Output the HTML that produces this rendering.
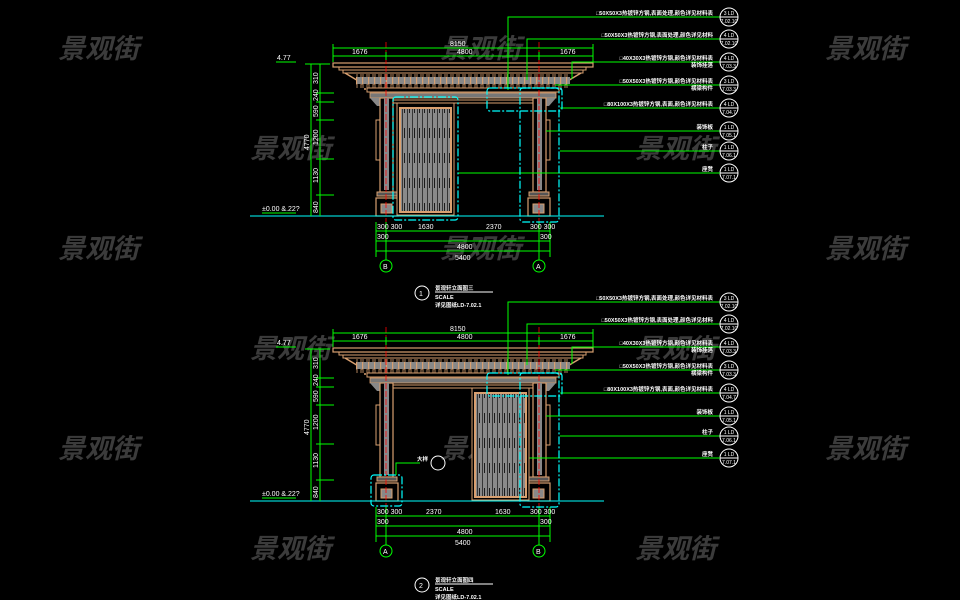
<!DOCTYPE html>
<html><head><meta charset="utf-8"><style>
html,body{margin:0;padding:0;background:#000;width:960px;height:600px;overflow:hidden}
svg{display:block}
.wm{font-family:"Liberation Sans","Noto Sans CJK SC",sans-serif;font-size:27px;font-style:italic;font-weight:bold;fill:#4a4a4a;opacity:.8}
.lb{font-family:"Liberation Sans","Noto Sans CJK SC",sans-serif;font-size:5.5px;fill:#fff;font-weight:bold}
.ce{font-family:"Liberation Sans",sans-serif;font-size:5px;fill:#fff;text-anchor:middle}
.dm{font-family:"Liberation Sans",sans-serif;font-size:7px;fill:#fff}
</style></head><body>
<svg width="960" height="600" viewBox="0 0 960 600" xmlns="http://www.w3.org/2000/svg">
<defs>
<pattern id="fr" x="0" y="0" width="6" height="14" patternUnits="userSpaceOnUse">
<rect x="0" y="0" width="6" height="14" fill="#000"/>
<rect x="1" y="0" width="2" height="8" fill="none" stroke="#d9a070" stroke-width=".8"/>
<rect x="0" y="7" width="6" height="7" fill="#888"/>
<rect x="2" y="7" width="1.2" height="7" fill="#d9a070"/>
</pattern>
<pattern id="dr" x="0" y="0" width="5" height="25" patternUnits="userSpaceOnUse">
<rect width="5" height="25" fill="#8a8a8a"/>
<rect x="2" y="0" width=".8" height="25" fill="#222"/>
<rect x="4" y="3" width=".8" height="10" fill="#000"/>
</pattern>
<g id="frame">
<rect x="333" y="63" width="260" height="4" fill="none" stroke="#d9a070" stroke-width="1.2"/>
<rect x="339" y="67" width="247" height="3" fill="none" stroke="#d9a070"/>
<rect x="343" y="70" width="240" height="3" fill="none" stroke="#d9a070"/>
<polyline points="345,73 350,76 355,79 360,82 365,86 365,90" fill="none" stroke="#d9a070" stroke-width="1.5"/>
<polyline points="581,73 576,76 571,79 566,82 561,86 561,90" fill="none" stroke="#d9a070" stroke-width="1.5"/>
<rect x="356" y="74" width="214" height="14" fill="url(#fr)"/>
<rect x="367" y="88" width="192" height="4" fill="none" stroke="#d9a070"/>
<rect x="370" y="93" width="186" height="5" fill="#777" stroke="#d9a070" stroke-width=".8"/>
<path d="M370 98 L385 98 L385 106 L377 106 Z" fill="#888"/>
<path d="M556 98 L541 98 L541 106 L549 106 Z" fill="#888"/>
<rect x="386" y="100" width="153" height="3" fill="none" stroke="#d9a070"/>
<rect x="380" y="98" width="13" height="94" fill="#000" stroke="#d9a070" stroke-width="1.2"/>
<rect x="384" y="98" width="5" height="92" fill="#888"/>
<rect x="533" y="98" width="13" height="94" fill="#000" stroke="#d9a070" stroke-width="1.2"/>
<rect x="537" y="98" width="5" height="92" fill="#888"/>
<rect x="376" y="120" width="4" height="40" fill="none" stroke="#d9a070"/>
<rect x="546" y="120" width="4" height="40" fill="none" stroke="#d9a070"/>
<rect x="377" y="192" width="20" height="4" fill="#555" stroke="#d9a070"/>
<rect x="376" y="198" width="22" height="18" fill="none" stroke="#d9a070" stroke-width="1.2"/>
<rect x="381" y="204" width="11" height="9" fill="#888" stroke="#d9a070"/>
<rect x="529" y="192" width="20" height="4" fill="#555" stroke="#d9a070"/>
<rect x="528" y="198" width="22" height="18" fill="none" stroke="#d9a070" stroke-width="1.2"/>
<rect x="533" y="204" width="11" height="9" fill="#888" stroke="#d9a070"/>
<line x1="386" y1="42" x2="386" y2="226" stroke="#f00" stroke-dasharray="6,2" stroke-width=".8"/>
<line x1="539" y1="42" x2="539" y2="226" stroke="#f00" stroke-dasharray="6,2" stroke-width=".8"/>
<line x1="250" y1="216" x2="604" y2="216" stroke="#0ff" stroke-width="1"/>
<g stroke="#0f0" stroke-width="1" fill="none">
<line x1="333" y1="48" x2="593" y2="48"/><line x1="333" y1="56" x2="593" y2="56"/>
<line x1="333" y1="44" x2="333" y2="62"/><line x1="593" y1="44" x2="593" y2="62"/>
<line x1="386" y1="52" x2="386" y2="60"/><line x1="539" y1="52" x2="539" y2="60"/>
<line x1="311" y1="64" x2="311" y2="216"/><line x1="320" y1="64" x2="320" y2="216"/>
<line x1="305" y1="64" x2="330" y2="64"/>
<line x1="316" y1="93" x2="334" y2="93"/><line x1="316" y1="102" x2="334" y2="102"/>
<line x1="316" y1="120" x2="334" y2="120"/><line x1="316" y1="159" x2="334" y2="159"/>
<line x1="316" y1="195" x2="334" y2="195"/>
<line x1="276" y1="62" x2="296" y2="62"/><line x1="262" y1="213" x2="296" y2="213"/>
<line x1="376" y1="222" x2="376" y2="257"/><line x1="550" y1="222" x2="550" y2="257"/>
<line x1="386" y1="222" x2="386" y2="260"/><line x1="539" y1="222" x2="539" y2="260"/>
<line x1="376" y1="231" x2="550" y2="231"/><line x1="376" y1="241" x2="550" y2="241"/><line x1="376" y1="251" x2="550" y2="251"/>
<circle cx="386" cy="266" r="6"/><circle cx="539" cy="266" r="6"/>
</g>
<text class="dm" x="450" y="46">8150</text><text class="dm" x="352" y="54">1676</text><text class="dm" x="457" y="54">4800</text><text class="dm" x="560" y="54">1676</text>
<text class="dm" x="277" y="60">4.77</text><text class="dm" x="262" y="211">±0.00 &amp;.22?</text>
<text class="dm" x="455" y="260">5400</text><text class="dm" x="377" y="239">300</text><text class="dm" x="540" y="239">300</text><text class="dm" x="457" y="249">4800</text>
<text class="dm" transform="translate(309,150) rotate(-90)">4770</text>
<text class="dm" transform="translate(318,84) rotate(-90)">310</text>
<text class="dm" transform="translate(318,101) rotate(-90)">240</text>
<text class="dm" transform="translate(318,117) rotate(-90)">590</text>
<text class="dm" transform="translate(318,145) rotate(-90)">1200</text>
<text class="dm" transform="translate(318,183) rotate(-90)">1130</text>
<text class="dm" transform="translate(318,213) rotate(-90)">840</text>
<g stroke="#0f0" stroke-width="1" fill="none">
<polyline points="508,90 508,17 720,17"/><polyline points="527,80 527,39 720,39"/>
<polyline points="572,79 572,62 720,62"/><line x1="555" y1="85" x2="720" y2="85"/>
<line x1="560" y1="108" x2="720" y2="108"/><line x1="546" y1="131" x2="720" y2="131"/>
<line x1="560" y1="151" x2="720" y2="151"/>
</g>
<g stroke="#fff" stroke-width="1" fill="none">
<circle cx="729" cy="17" r="9"/><circle cx="729" cy="39" r="9"/><circle cx="729" cy="62" r="9"/><circle cx="729" cy="85" r="9"/><circle cx="729" cy="108" r="9"/><circle cx="729" cy="131" r="9"/><circle cx="729" cy="151" r="9"/><circle cx="729" cy="173" r="9"/>
<line x1="720" y1="17" x2="738" y2="17"/><line x1="720" y1="39" x2="738" y2="39"/><line x1="720" y1="62" x2="738" y2="62"/><line x1="720" y1="85" x2="738" y2="85"/><line x1="720" y1="108" x2="738" y2="108"/><line x1="720" y1="131" x2="738" y2="131"/><line x1="720" y1="151" x2="738" y2="151"/><line x1="720" y1="173" x2="738" y2="173"/>
</g>
<g class="ce">
<text x="729" y="15">3 LD</text><text x="729" y="23">7.02.10</text>
<text x="729" y="37">4 LD</text><text x="729" y="45">7.02.10</text>
<text x="729" y="60">4 LD</text><text x="729" y="68">7.03.3</text>
<text x="729" y="83">3 LD</text><text x="729" y="91">7.03.3</text>
<text x="729" y="106">4 LD</text><text x="729" y="114">7.04.7</text>
<text x="729" y="129">1 LD</text><text x="729" y="137">7.05.1</text>
<text x="729" y="149">1 LD</text><text x="729" y="157">7.06.1</text>
<text x="729" y="171">1 LD</text><text x="729" y="179">7.07.1</text>
</g>
<g class="lb" text-anchor="end">
<text x="713" y="15">□50X50X3热镀锌方钢,表面处理,颜色详见材料表</text>
<text x="713" y="37">□50X50X3热镀锌方钢,表面处理,颜色详见材料</text>
<text x="713" y="60">□40X30X3热镀锌方钢,颜色详见材料表</text>
<text x="713" y="67">装饰挂落</text>
<text x="713" y="83">□50X50X3热镀锌方钢,颜色详见材料表</text>
<text x="713" y="90">横梁构件</text>
<text x="713" y="106">□80X100X3热镀锌方钢,表面,颜色详见材料表</text>
<text x="713" y="129">装饰板</text><text x="713" y="149">柱子</text><text x="713" y="171">座凳</text>
</g>
</g>
</defs>

<g class="wm">
<text x="58" y="58">景观街</text><text x="440" y="58">景观街</text><text x="825" y="58">景观街</text>
<text x="250" y="158">景观街</text><text x="635" y="158">景观街</text>
<text x="58" y="258">景观街</text><text x="440" y="258">景观街</text><text x="825" y="258">景观街</text>
<text x="250" y="358">景观街</text><text x="635" y="358">景观街</text>
<text x="58" y="458">景观街</text><text x="440" y="458">景观街</text><text x="825" y="458">景观街</text>
<text x="250" y="558">景观街</text><text x="635" y="558">景观街</text>
</g>

<use href="#frame"/>
<line x1="458" y1="173" x2="720" y2="173" stroke="#0f0"/>
<rect x="397" y="103" width="57" height="112" fill="#000" stroke="#d9a070"/>
<rect x="399" y="107" width="53" height="106" fill="#d9a070"/>
<rect x="401" y="109" width="49" height="102" fill="url(#dr)"/>
<g fill="none" stroke="#0ff" stroke-width="1.2" stroke-dasharray="8,2,2,2">
<rect x="393" y="97" width="65" height="123" rx="3"/>
<rect x="520" y="88" width="39" height="134" rx="3"/>
<rect x="487" y="88" width="75" height="23" rx="3"/>
</g>
<text class="dm" x="383" y="269">B</text><text class="dm" x="536" y="269">A</text>
<text class="dm" x="377" y="229">300 300</text><text class="dm" x="418" y="229">1630</text><text class="dm" x="486" y="229">2370</text><text class="dm" x="530" y="229">300 300</text>
<circle cx="422" cy="293" r="7" fill="none" stroke="#fff"/>
<text class="dm" x="419" y="296" font-size="8">1</text>
<text class="lb" x="435" y="290" font-size="7">景观轩立面图三</text>
<line x1="435" y1="292" x2="493" y2="292" stroke="#fff"/>
<text class="lb" x="435" y="299" font-size="4">SCALE</text>
<text class="lb" x="435" y="307" font-size="5">详见图纸LD-7.02.1</text>

<g transform="translate(0,285)">
<use href="#frame"/>
<line x1="505" y1="173" x2="720" y2="173" stroke="#0f0"/>
<rect x="472" y="103" width="57" height="112" fill="#000" stroke="#d9a070"/>
<rect x="474" y="107" width="53" height="106" fill="#d9a070"/>
<rect x="476" y="109" width="49" height="102" fill="url(#dr)"/>
<g fill="none" stroke="#0ff" stroke-width="1.2" stroke-dasharray="8,2,2,2">
<rect x="371" y="190" width="31" height="31" rx="3"/>
<rect x="520" y="88" width="39" height="134" rx="3"/>
<rect x="487" y="88" width="75" height="23" rx="3"/>
</g>
<polyline points="396,190 396,178 420,178" fill="none" stroke="#0f0"/>
<circle cx="438" cy="178" r="7" fill="none" stroke="#fff"/>
<text class="lb" x="417" y="176">大样</text>
<text class="dm" x="383" y="269">A</text><text class="dm" x="536" y="269">B</text>
<text class="dm" x="377" y="229">300 300</text><text class="dm" x="426" y="229">2370</text><text class="dm" x="495" y="229">1630</text><text class="dm" x="530" y="229">300 300</text>
</g>
<circle cx="422" cy="585" r="7" fill="none" stroke="#fff"/>
<text class="dm" x="419" y="588" font-size="8">2</text>
<text class="lb" x="435" y="582" font-size="7">景观轩立面图四</text>
<line x1="435" y1="584" x2="493" y2="584" stroke="#fff"/>
<text class="lb" x="435" y="591" font-size="4">SCALE</text>
<text class="lb" x="435" y="599" font-size="5">详见图纸LD-7.02.1</text>
</svg>
</body></html>
